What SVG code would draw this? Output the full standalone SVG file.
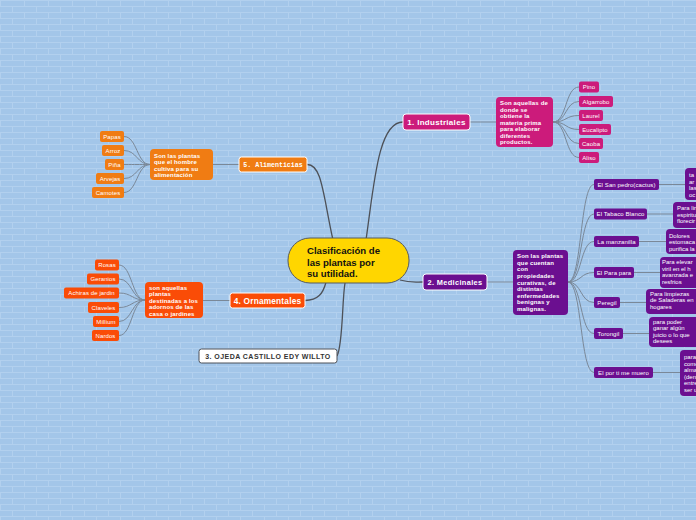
<svg xmlns="http://www.w3.org/2000/svg" width="696" height="520" viewBox="0 0 696 520">
<defs>
<pattern id="brick" width="24" height="12" patternUnits="userSpaceOnUse">
<rect width="24" height="12" fill="#a3c6e9"/>
<path d="M0,0.5H24M0,6.5H24M0.5,0V6M12.5,6V12" stroke="#b2d0ee" stroke-width="1" fill="none"/>
</pattern>
<style>
.main{stroke:#4d5158;stroke-width:1.3;fill:none}
.sub{stroke:#7a8898;stroke-width:1;fill:none}
.mag{fill:#cc1b7b}
.pur{fill:#6b0f90}
.org{fill:#f07c13}
.red{fill:#fa4c07}
.wb{stroke:#ffffff;stroke-width:1}
.t{font-family:"Liberation Sans",Arial,sans-serif;fill:#ffffff}
.mono{font-family:"Liberation Mono","Courier New",monospace;fill:#ffffff;font-size:6.6px;font-weight:bold}
.leaf{font-size:6px;letter-spacing:0.1px;text-anchor:middle}
.desc{font-size:6px;font-weight:bold;letter-spacing:0.15px}
.rd{font-size:6px}
</style>
</defs>
<rect width="696" height="520" fill="url(#brick)"/>

<g id="connectors">
<path class="main" d="M366,240 C374,185 378,122 403,122"/>
<path class="main" d="M307,164.5 C322,164 323,195 333,240"/>
<path class="main" d="M305,300.5 C318,300 323,294 326,282"/>
<path class="main" d="M337,356 C343,345 342,300 345,283"/>
<path class="main" d="M400,280 C410,283 415,282 423,282"/>
<path class="sub" d="M470,122H496"/>
<path class="sub" d="M553,122 C567,122 565,87 579,87"/>
<path class="sub" d="M553,122 C567,122 565,101.5 579,101.5"/>
<path class="sub" d="M553,122 C567,122 565,115.5 579,115.5"/>
<path class="sub" d="M553,122 C567,122 565,129.5 579,129.5"/>
<path class="sub" d="M553,122 C567,122 565,143.5 579,143.5"/>
<path class="sub" d="M553,122 C567,122 565,157.5 579,157.5"/>
<path class="sub" d="M487,282H513"/>
<path class="sub" d="M568,282 C582,282 580,184.5 594,184.5"/>
<path class="sub" d="M568,282 C582,282 580,214 594,214"/>
<path class="sub" d="M568,282 C582,282 580,241.5 594,241.5"/>
<path class="sub" d="M568,282 C582,282 580,272.5 594,272.5"/>
<path class="sub" d="M568,282 C582,282 580,302.5 594,302.5"/>
<path class="sub" d="M568,282 C582,282 580,333.5 594,333.5"/>
<path class="sub" d="M568,282 C582,282 580,372.5 594,372.5"/>
<path class="sub" d="M659,184.5H685M647,214H673M639,241.5H666M634,272.5H660M620,302.5H646M623,333.5H649M653,372.5H680"/>
<path class="sub" d="M239,164.5H213"/>
<path class="sub" d="M150,164.5 C137,164.5 137,136.5 124,136.5"/>
<path class="sub" d="M150,164.5 C137,164.5 137,150.5 124,150.5"/>
<path class="sub" d="M150,164.5 C137,164.5 137,164.5 124,164.5"/>
<path class="sub" d="M150,164.5 C137,164.5 137,178.5 124,178.5"/>
<path class="sub" d="M150,164.5 C137,164.5 137,192.5 124,192.5"/>
<path class="sub" d="M230,300.5H203"/>
<path class="sub" d="M145,300 C132,300 132,265 119,265"/>
<path class="sub" d="M145,300 C132,300 132,279 119,279"/>
<path class="sub" d="M145,300 C132,300 132,293 119,293"/>
<path class="sub" d="M145,300 C132,300 132,307.5 119,307.5"/>
<path class="sub" d="M145,300 C132,300 132,321.5 119,321.5"/>
<path class="sub" d="M145,300 C132,300 132,335.5 119,335.5"/>
</g>

<g id="center">
<rect x="288" y="238" width="121" height="45" rx="22" fill="#ffd600" stroke="#555a60" stroke-width="1"/>
<text font-family="Liberation Sans,Arial,sans-serif" font-size="9.6" font-weight="bold" fill="#111">
<tspan x="307" y="254">Clasificación de</tspan><tspan x="307" y="265.5">las plantas por</tspan><tspan x="307" y="277">su utilidad.</tspan></text>
</g>

<g id="industriales">
<rect class="mag wb" x="403" y="114" width="67" height="16" rx="3"/>
<text class="t" x="436.5" y="125" font-size="8" font-weight="bold" letter-spacing="0.3" text-anchor="middle">1. Industriales</text>
</g>
<g id="industriales-desc">
<rect class="mag" x="496" y="97" width="57" height="50" rx="4"/>
<text class="t desc"><tspan x="500" y="105">Son aquellas de</tspan><tspan x="500" y="111.5">donde se</tspan><tspan x="500" y="118">obtiene la</tspan><tspan x="500" y="124.5">materia prima</tspan><tspan x="500" y="131">para elaborar</tspan><tspan x="500" y="137.5">diferentes</tspan><tspan x="500" y="144">productos.</tspan></text>
</g>
<g id="pino"><rect class="mag" x="579" y="81.5" width="20" height="11" rx="2"/><text class="t leaf" x="589" y="89.2">Pino</text></g>
<g id="algarrobo"><rect class="mag" x="579" y="96" width="34" height="11" rx="2"/><text class="t leaf" x="596" y="103.7">Algarrobo</text></g>
<g id="laurel"><rect class="mag" x="579" y="110" width="24" height="11" rx="2"/><text class="t leaf" x="591" y="117.7">Laurel</text></g>
<g id="eucalipto"><rect class="mag" x="579" y="124" width="32" height="11" rx="2"/><text class="t leaf" x="595" y="131.7">Eucalipto</text></g>
<g id="caoba"><rect class="mag" x="579" y="138" width="24" height="11" rx="2"/><text class="t leaf" x="591" y="145.7">Caoba</text></g>
<g id="aliso"><rect class="mag" x="579" y="152" width="20" height="11" rx="2"/><text class="t leaf" x="589" y="159.7">Aliso</text></g>

<g id="medicinales">
<rect class="pur wb" x="423" y="274" width="64" height="16" rx="3"/>
<text class="t" x="455" y="285" font-size="7.4" font-weight="bold" letter-spacing="0.35" text-anchor="middle">2. Medicinales</text>
</g>
<g id="medicinales-desc">
<rect class="pur" x="513" y="250" width="55" height="65" rx="4"/>
<text class="t desc"><tspan x="517" y="258.2">Son las plantas</tspan><tspan x="517" y="264.8">que cuentan</tspan><tspan x="517" y="271.4">con</tspan><tspan x="517" y="278">propiedades</tspan><tspan x="517" y="284.6">curativas, de</tspan><tspan x="517" y="291.2">distintas</tspan><tspan x="517" y="297.8">enfermedades</tspan><tspan x="517" y="304.4">benignas y</tspan><tspan x="517" y="311">malignas.</tspan></text>
</g>
<g id="sanpedro"><rect class="pur" x="594" y="179" width="65" height="11" rx="2"/><text class="t leaf" x="626.5" y="186.7">El San pedro(cactus)</text></g>
<g id="tabaco"><rect class="pur" x="594" y="208.5" width="53" height="11" rx="2"/><text class="t leaf" x="620.5" y="216.2">El Tabaco Blanco</text></g>
<g id="manzanilla"><rect class="pur" x="594" y="236" width="45" height="11" rx="2"/><text class="t leaf" x="616.5" y="243.7">La manzanilla</text></g>
<g id="parapara"><rect class="pur" x="594" y="267" width="40" height="11" rx="2"/><text class="t leaf" x="614" y="274.7">El Para para</text></g>
<g id="peregil"><rect class="pur" x="594" y="297" width="26" height="11" rx="2"/><text class="t leaf" x="607" y="304.7">Peregil</text></g>
<g id="torongil"><rect class="pur" x="594" y="328" width="29" height="11" rx="2"/><text class="t leaf" x="608.5" y="335.7">Torongil</text></g>
<g id="porti"><rect class="pur" x="594" y="367" width="59" height="11" rx="2"/><text class="t leaf" x="623.5" y="374.7">El por ti me muero</text></g>

<g id="sanpedro-desc"><rect class="pur" x="685" y="168" width="30" height="32" rx="4"/><text class="t rd"><tspan x="689" y="177">ta</tspan><tspan x="689" y="183.5">ar</tspan><tspan x="689" y="190">las</tspan><tspan x="689" y="196.5">oc</tspan></text></g>
<g id="tabaco-desc"><rect class="pur" x="673" y="202" width="40" height="26" rx="4"/><text class="t rd"><tspan x="677" y="210">Para lir</tspan><tspan x="677" y="216.5">espiritu</tspan><tspan x="677" y="223">florecir</tspan></text></g>
<g id="manzanilla-desc"><rect class="pur" x="666" y="229" width="45" height="25" rx="4"/><text class="t rd"><tspan x="669" y="237.5">Dolores</tspan><tspan x="669" y="244">estomaca</tspan><tspan x="669" y="250.5">purifica la</tspan></text></g>
<g id="parapara-desc"><rect class="pur" x="660" y="257" width="50" height="31" rx="4"/><text class="t rd"><tspan x="662" y="264">Para elevar</tspan><tspan x="662" y="270.5">viril en el h</tspan><tspan x="662" y="277">avanzada e</tspan><tspan x="662" y="283.5">resfrios</tspan></text></g>
<g id="peregil-desc"><rect class="pur" x="646" y="289" width="56" height="25" rx="4"/><text class="t rd"><tspan x="650" y="295.5">Para limpiezas</tspan><tspan x="650" y="302">de Saladeras en</tspan><tspan x="650" y="308.5">hogares</tspan></text></g>
<g id="torongil-desc"><rect class="pur" x="649" y="317" width="56" height="30" rx="4"/><text class="t rd"><tspan x="653" y="323.5">para poder</tspan><tspan x="653" y="330">ganar algún</tspan><tspan x="653" y="336.5">juicio o lo que</tspan><tspan x="653" y="343">desees</tspan></text></g>
<g id="porti-desc"><rect class="pur" x="680" y="350" width="40" height="46" rx="4"/><text class="t rd"><tspan x="684" y="359">para</tspan><tspan x="684" y="365.5">come</tspan><tspan x="684" y="372">alma</tspan><tspan x="684" y="378.5">(den</tspan><tspan x="684" y="385">entre</tspan><tspan x="684" y="391.5">ser u</tspan></text></g>

<g id="alimenticias">
<rect class="org wb" x="239" y="157" width="68" height="15" rx="2.5"/>
<text class="mono" x="273" y="167" text-anchor="middle">5. Alimenticias</text>
</g>
<g id="alimenticias-desc">
<rect class="org" x="150" y="149" width="63" height="31" rx="4"/>
<text class="t desc"><tspan x="154" y="157.5">Son las plantas</tspan><tspan x="154" y="164">que el hombre</tspan><tspan x="154" y="170.5">cultiva para su</tspan><tspan x="154" y="177">alimentación</tspan></text>
</g>
<g id="papas"><rect class="org" x="100" y="131" width="24" height="11" rx="2"/><text class="t leaf" x="112" y="138.7">Papas</text></g>
<g id="arroz"><rect class="org" x="102" y="145" width="22" height="11" rx="2"/><text class="t leaf" x="113" y="152.7">Arroz</text></g>
<g id="pina"><rect class="org" x="105" y="159" width="19" height="11" rx="2"/><text class="t leaf" x="114.5" y="166.7">Piña</text></g>
<g id="arvejas"><rect class="org" x="96" y="173" width="28" height="11" rx="2"/><text class="t leaf" x="110" y="180.7">Arvejas</text></g>
<g id="camotes"><rect class="org" x="92" y="187" width="32" height="11" rx="2"/><text class="t leaf" x="108" y="194.7">Camotes</text></g>

<g id="ornamentales">
<rect class="red wb" x="230" y="293" width="75" height="15" rx="2.5"/>
<text class="t" x="267.5" y="303.5" font-size="8.3" font-weight="bold" letter-spacing="0.2" text-anchor="middle">4. Ornamentales</text>
</g>
<g id="ornamentales-desc">
<rect class="red" x="145" y="282" width="58" height="36" rx="4"/>
<text class="t desc"><tspan x="149" y="289.5">son aquellas</tspan><tspan x="149" y="296">plantas</tspan><tspan x="149" y="302.5">destinadas a los</tspan><tspan x="149" y="309">adornos de las</tspan><tspan x="149" y="315.5">casa o jardines</tspan></text>
</g>
<g id="rosas"><rect class="red" x="95" y="259.5" width="24" height="11" rx="2"/><text class="t leaf" x="107" y="267.2">Rosas</text></g>
<g id="geranios"><rect class="red" x="87" y="273.5" width="32" height="11" rx="2"/><text class="t leaf" x="103" y="281.2">Geranios</text></g>
<g id="achiras"><rect class="red" x="64" y="287.5" width="55" height="11" rx="2"/><text class="t leaf" x="91.5" y="295.2">Achiras de jardin</text></g>
<g id="claveles"><rect class="red" x="88" y="302" width="31" height="11" rx="2"/><text class="t leaf" x="103.5" y="309.7">Claveles</text></g>
<g id="millium"><rect class="red" x="93" y="316" width="26" height="11" rx="2"/><text class="t leaf" x="106" y="323.7">Millium</text></g>
<g id="nardos"><rect class="red" x="92" y="330" width="27" height="11" rx="2"/><text class="t leaf" x="105.5" y="337.7">Nardos</text></g>

<g id="ojeda">
<rect x="199" y="349" width="138" height="14" rx="2.5" fill="#ffffff" stroke="#4d5158" stroke-width="1"/>
<text x="268" y="358.5" font-family="Liberation Sans,Arial,sans-serif" font-size="7" font-weight="bold" letter-spacing="0.45" fill="#333" text-anchor="middle">3. OJEDA CASTILLO EDY WILLTO</text>
</g>
</svg>
